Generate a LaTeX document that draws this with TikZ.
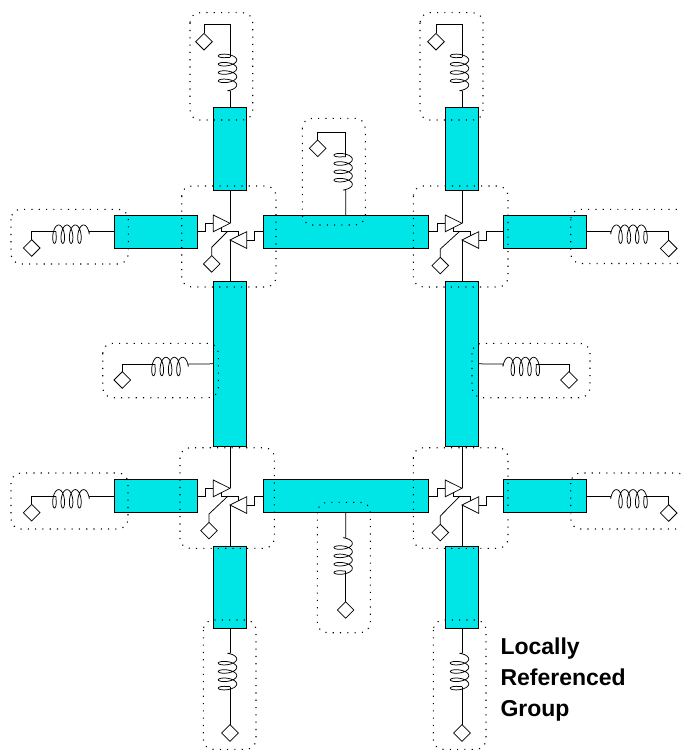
\documentclass[tikz,border=0pt]{standalone}
\usepackage{fontspec}
\setmainfont{Liberation Sans}
\usepackage{tikz}
\usetikzlibrary{positioning, shapes.geometric}
\definecolor{stripcyan}{RGB}{0,230,230}
\tikzset{
  wire/.style={line width=.75pt, black},
  hstrip/.style={draw, fill=stripcyan, line width=1pt, inner sep=0pt, outer sep=0pt, minimum width=#1, minimum height=33.3pt},
  vstrip/.style={draw, fill=stripcyan, line width=1pt, inner sep=0pt, outer sep=0pt, minimum width=33.3pt, minimum height=#1},
  gnd/.style={draw, wire, diamond, aspect=1, inner sep=0pt, outer sep=0pt, minimum width=16.6pt, minimum height=16.6pt},
  grp/.style={line width=1.1pt, dash pattern=on 1.1pt off 6.2pt, rounded corners=10pt},
  coilL/.style={xscale=-1},
  coilR/.style={},
  coilU/.style={rotate=90, yscale=-1},
  coilD/.style={rotate=-90},
  coil/.pic={
    \draw[wire] (0,0) -- plot[domain=0:1440, samples=181, smooth] ({\x/1440*33.3+3.6-3.6*cos(\x)}, {-2.5+9.2*sin(\x)}) -- (33.3,0);
    \coordinate (-a) at (0,0);
    \coordinate (-b) at (33.3,0);
  }
}

\begin{document}
\begin{tikzpicture}
	[x=1pt, y=1pt, on grid]
   \clip (0,0) rectangle (682,-752);
   \node[vstrip=165.7pt] (lv) at (230,-363.85) {};
   \node[vstrip=83pt] (tl) [above=214.65pt of lv] {};
   \node[vstrip=82.3pt] (bl) [below=223.3pt of lv] {};
   \node[vstrip=165.7pt] (rv) [right=232pt of lv] {};
   \node[vstrip=83pt] (tr) [above=214.65pt of rv] {};
   \node[vstrip=82.3pt] (br) [below=223.3pt of rv] {};
   \node[hstrip=83pt] (ul) at (155.8,-231.7) {};
   \node[hstrip=165.3pt] (tm) [right=189.85pt of ul] {};
   \node[hstrip=83pt] (ur) [right=198.85pt of tm] {};
   \node[hstrip=83pt] (ll) [below=264.6pt of ul] {};
   \node[hstrip=165.3pt] (bm) [below=264.6pt of tm] {};
   \node[hstrip=83pt] (lr) [below=264.6pt of ur] {};

   \foreach \n/\ox/\oy/\nT/\nB/\nL/\nR/\ex/\ey in {
     ca/213.3/-215/tl/lv/ul/tm/-1.6/-32.3,
     cb/445.3/-215/tr/rv/tm/ur/-5/-34,
     cc/213.3/-480/lv/bl/ll/bm/-4.3/-34,
     cd/445.3/-480/rv/br/bm/lr/-5/-36}
   {
     \begin{scope}[shift={(\ox,\oy)}, wire]
       \node[gnd] (\n d) at (\ex,\ey-16.6) {};
       \draw (0,0) -- (0,-16.7) -- (16.7,-8.3) -- cycle;
       \draw (33.4,-16.7) -- (33.4,-33.4) -- (16.7,-25) -- cycle;
       \draw (\nT.south) -- (16.7,-8.3);
       \draw (\nB.north) -- (16.7,-25);
       \draw (\nL.east) -| (-8.3,-8.3) -- (0,-8.3);
       \draw (\nR.west) -| (41.4,-25) -- (33.4,-25);
       \draw (8.4,-12.3) -- (8.4,-16.7) -- (25,-16.7) -- (25,-20.7);
       \draw (14,-16.7) -- (\ex,\ey) -- (\n d.north);
     \end{scope}
   }

   \foreach \n/\a/\cx/\cy/\dir/\h/\dx/\dy in {
     sa/tl.north/230/-90.7/coilU/33.3/204/-41.7,
     sb/tr.north/462/-90.7/coilU/33.3/436/-41.7,
     sc/tm.north/345.65/-190/coilU/24.6/317.7/-148.3,
     sd/ul.west/89.3/-231.7/coilL/0/31.7/-248,
     se/ur.east/610.7/-231.7/coilR/0/668.7/-248.5,
     sf/lv.west/188.3/-364/coilL/0/122.3/-380,
     sg/rv.east/503/-364/coilR/0/569/-380,
     sh/ll.west/89.3/-496.3/coilL/0/31.7/-512.7,
     si/lr.east/610.7/-496.3/coilR/0/668.7/-513,
     sj/bm.south/345.65/-537.7/coilD/0/345.65/-610,
     sk/bl.south/230/-653.3/coilD/0/230/-733,
     sl/br.south/462/-653.3/coilD/0/462/-733}
   {
     \node[gnd] (\n d) at (\dx,\dy) {};
     \pic[style=\dir] (\n) at (\cx,\cy) {coil};
     \draw[wire] (\a) -- (\n-a);
     \draw[wire] (\n-b) -- ++(0,\h) -| (\n d.north);
   }

   \foreach \xa/\ya/\xb/\yb in {
     181.7/-186/276/-287, 413.3/-186/508/-287,
     180/-447.7/274.3/-548.3, 413.3/-447.7/508/-548.3,
     190/-12.7/252.7/-120, 420/-12.7/483/-120,
     302.3/-118.3/365.3/-225, 11/-209.3/128.3/-264,
     570.7/-209.3/687/-263.5, 102.7/-343.3/218.3/-397.7,
     472/-343.3/590/-397.7, 11/-473/128/-529,
     570.7/-473/687/-529, 317.3/-502.3/370.3/-632.7,
     203.3/-620/256/-749.3, 433.3/-620/486/-749.3}
   {
     \draw[grp] (\xa,\ya) rectangle (\xb,\yb);
   }

   \node[anchor=north west, align=left, inner sep=0pt, font=\fontsize{23}{31}\selectfont\bfseries] (lbl) at (500.3,-638) {Locally\\Referenced\\Group};
\end{tikzpicture}
\end{document}
